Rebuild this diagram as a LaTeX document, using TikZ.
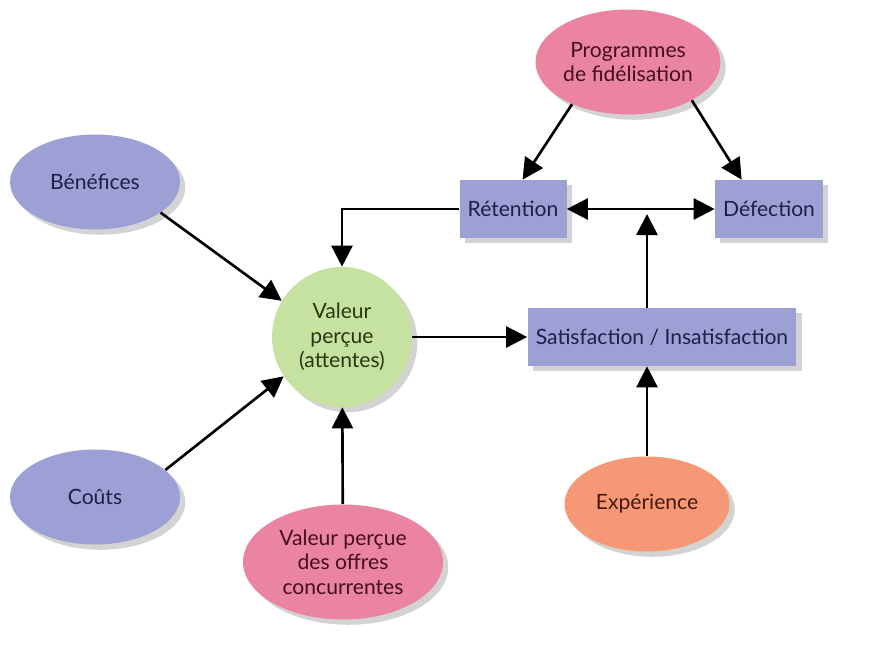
\documentclass[tikz,border=0pt]{standalone}
\usepackage{fontspec}
\setmainfont{Lato}
\usetikzlibrary{arrows.meta,positioning,shadows,shapes.geometric}
\definecolor{bluecol}{RGB}{156,160,212}
\definecolor{pinkcol}{RGB}{234,132,160}
\definecolor{greencol}{RGB}{198,226,160}
\definecolor{orangecol}{RGB}{246,152,118}
\definecolor{bluetxt}{RGB}{30,30,75}
\definecolor{pinktxt}{RGB}{70,15,30}
\definecolor{greentxt}{RGB}{40,55,15}
\definecolor{orangetxt}{RGB}{70,25,15}

\begin{document}
\begin{tikzpicture}[
    x=0.02cm, y=-0.02cm,
    >={Triangle[length=4.2mm, width=4.2mm]},
    arr/.style={->, line width=1.5pt},
    shad/.style={drop shadow={shadow xshift=3pt, shadow yshift=-3pt, opacity=0.35}},
    oval/.style={ellipse, shad, align=center, font=\fontsize{12}{14}\selectfont, inner sep=0pt},
    box/.style={rectangle, shad, fill=bluecol, text=bluetxt, align=center, font=\fontsize{12}{14}\selectfont, minimum height=1.16cm},
]
\useasboundingbox (0,0) rectangle (884,649);

\node[oval, fill=bluecol, text=bluetxt, minimum width=3.4cm, minimum height=1.9cm] (ben) at (95,182) {Bénéfices};
\node[oval, fill=bluecol, text=bluetxt, minimum width=3.4cm, minimum height=1.9cm] (cou) at (95,497) {Coûts};
\node[circle, shad, fill=greencol, text=greentxt, align=center, font=\fontsize{12}{14}\selectfont, minimum size=2.8cm, inner sep=0pt] (val) at (342,337) {Valeur\\perçue\\(attentes)};
\node[oval, fill=pinkcol, text=pinktxt, minimum width=4cm, minimum height=2.3cm] (conc) at (343,562) {Valeur perçue\\des offres\\concurrentes};
\node[oval, fill=pinkcol, text=pinktxt, minimum width=3.7cm, minimum height=2.1cm] (prog) at (628,62) {Programmes\\de fidélisation};
\node[box, minimum width=2.14cm] (ret) at (513,209) {Rétention};
\node[box, minimum width=2.16cm] (def) at (769,209) {Défection};
\node[box, minimum width=5.38cm] (sat) at (662,337) {Satisfaction / Insatisfaction};
\node[oval, fill=orangecol, text=orangetxt, minimum width=3.3cm, minimum height=1.9cm] (exp) at (647,504) {Expérience};

\coordinate (junc) at (647,214);

\draw[arr] (ben.-25) -- (val.149);
\draw[arr] (cou.21) -- (val.214);
\draw[arr] (conc) -- (val);
\draw[arr] (val) -- (sat);
\draw[arr] (exp) -- (exp |- sat.south);
\draw[arr] (sat.north -| junc) -- (junc);
\draw[arr, <->] (ret) -- (def);
\draw[arr] (ret.west) -| (val.north);
\draw[arr] (prog.217) -- (ret.72);
\draw[arr] (prog.-31) -- (def.133);
\end{tikzpicture}
\end{document}
